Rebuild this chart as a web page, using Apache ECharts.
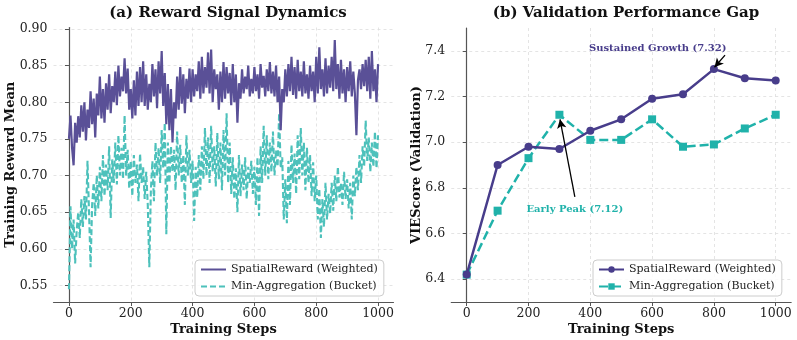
<!DOCTYPE html>
<html>
<head>
<meta charset="utf-8">
<script src="https://cdn.jsdelivr.net/npm/echarts@6/dist/echarts.min.js"></script>
<style>
html,body{margin:0;padding:0;background:#fff;}
#wrap{position:relative;width:797px;height:340px;}
#c1{position:absolute;left:0;top:0;width:400px;height:340px;}
#c2{position:absolute;left:400px;top:0;width:397px;height:340px;}
</style>
</head>
<body>
<div id="wrap"><div id="c1"></div><div id="c2"></div></div>
<script>
// ---- Data ----
// Training curves, sampled every 5 steps (0..1000)
const trainSteps = Array.from({length: 201}, (_, i) => i * 5);
const spatialTrain = [
0.750,0.782,0.738,0.714,0.772,0.745,0.781,0.752,0.796,0.760,
0.800,0.748,0.790,0.765,0.815,0.770,0.805,0.752,0.812,0.782,
0.835,0.778,0.818,0.772,0.826,0.790,0.838,0.785,0.822,0.800,
0.842,0.796,0.850,0.808,0.835,0.815,0.860,0.812,0.846,0.790,
0.818,0.778,0.830,0.782,0.842,0.795,0.848,0.800,0.856,0.795,
0.838,0.790,0.825,0.800,0.852,0.808,0.845,0.792,0.856,0.812,
0.870,0.795,0.840,0.770,0.825,0.762,0.818,0.745,0.800,0.778,
0.835,0.790,0.848,0.798,0.838,0.785,0.832,0.805,0.846,0.800,
0.845,0.808,0.838,0.815,0.856,0.805,0.862,0.812,0.848,0.820,
0.868,0.812,0.872,0.800,0.845,0.818,0.838,0.790,0.842,0.800,
0.855,0.805,0.848,0.812,0.840,0.796,0.852,0.800,0.838,0.772,
0.826,0.805,0.845,0.812,0.835,0.818,0.850,0.808,0.832,0.812,
0.848,0.815,0.838,0.805,0.852,0.820,0.836,0.808,0.845,0.815,
0.855,0.812,0.842,0.808,0.850,0.800,0.835,0.762,0.818,0.800,
0.845,0.808,0.852,0.815,0.862,0.810,0.848,0.805,0.858,0.815,
0.842,0.808,0.856,0.812,0.838,0.805,0.850,0.815,0.842,0.800,
0.862,0.812,0.875,0.818,0.845,0.808,0.860,0.812,0.850,0.820,
0.862,0.815,0.885,0.818,0.852,0.805,0.858,0.812,0.845,0.800,
0.848,0.815,0.856,0.808,0.842,0.812,0.755,0.830,0.845,0.818,
0.852,0.822,0.858,0.815,0.862,0.805,0.870,0.815,0.845,0.800,
0.852
];
const minAggTrain = [
0.545,0.658,0.600,0.640,0.580,0.625,0.650,0.615,0.668,0.630,
0.672,0.640,0.720,0.650,0.575,0.660,0.690,0.645,0.700,0.655,
0.712,0.665,0.728,0.672,0.715,0.680,0.740,0.642,0.722,0.690,
0.745,0.688,0.755,0.700,0.738,0.695,0.782,0.700,0.735,0.682,
0.720,0.672,0.728,0.690,0.715,0.665,0.730,0.690,0.712,0.668,
0.705,0.660,0.575,0.680,0.720,0.665,0.745,0.700,0.738,0.690,
0.762,0.710,0.772,0.620,0.745,0.690,0.740,0.705,0.735,0.680,
0.760,0.700,0.742,0.690,0.728,0.660,0.755,0.700,0.735,0.690,
0.720,0.638,0.712,0.670,0.728,0.680,0.740,0.695,0.765,0.700,
0.752,0.690,0.768,0.705,0.740,0.685,0.758,0.695,0.745,0.680,
0.762,0.700,0.785,0.690,0.745,0.675,0.725,0.668,0.710,0.650,
0.728,0.672,0.715,0.680,0.725,0.668,0.712,0.690,0.720,0.675,
0.712,0.660,0.725,0.645,0.740,0.690,0.768,0.700,0.755,0.695,
0.745,0.705,0.760,0.700,0.735,0.712,0.785,0.710,0.725,0.640,
0.695,0.635,0.720,0.660,0.742,0.690,0.730,0.675,0.755,0.695,
0.765,0.700,0.745,0.680,0.738,0.690,0.728,0.672,0.718,0.665,
0.700,0.640,0.682,0.615,0.668,0.630,0.690,0.640,0.675,0.648,
0.690,0.652,0.700,0.665,0.712,0.670,0.690,0.660,0.705,0.668,
0.695,0.655,0.690,0.640,0.700,0.672,0.712,0.680,0.728,0.690,
0.740,0.712,0.775,0.720,0.752,0.705,0.745,0.712,0.760,0.710,
0.755
];
// Validation points
const valSteps = [0,100,200,300,400,500,600,700,800,900,1000];
const spatialVal = [6.42,6.90,6.98,6.97,7.05,7.10,7.19,7.21,7.32,7.28,7.27];
const minAggVal  = [6.42,6.70,6.93,7.12,7.01,7.01,7.10,6.98,6.99,7.06,7.12];
// Tick labels
const xTicks = [0,200,400,600,800,1000];
const yTicksLeft = [0.55,0.60,0.65,0.70,0.75,0.80,0.85,0.90];
const yTicksRight = [6.4,6.6,6.8,7.0,7.2,7.4];
// Annotations
const annGrowth = {text:'Sustained Growth (7.32)', textAt:[618,7.412], from:[836,7.381], to:[802,7.328]};
const annPeak = {text:'Early Peak (7.12)', textAt:[350,6.705], from:[350,6.76], to:[302,7.10]};

const names = ['SpatialReward (Weighted)','Min-Aggregation (Bucket)'];
const FONT = 'DejaVu Serif';
const pair = (xs, ys) => xs.map((x, i) => [x, ys[i]]);

function axisX(){
  return {
    type:'value', min:-50, max:1050,
    name:'Training Steps', nameLocation:'middle', nameGap:21, nameMoveOverlap:false,
    nameTextStyle:{fontFamily:FONT,fontWeight:'bold',fontSize:13,color:'#111'},
    axisLine:{show:true,lineStyle:{color:'#555',width:1.2}},
    axisTick:{show:true,length:4,customValues:xTicks,lineStyle:{color:'#555'}},
    axisLabel:{customValues:xTicks,fontFamily:FONT,fontSize:12.5,color:'#222',margin:5,formatter:v=>String(Math.round(v))},
    splitLine:{show:true,lineStyle:{color:'#ddd',width:0.8,type:[3,3]}}
  };
}
function axisY(min,max,ticks,name,gap,fmt){
  return {
    type:'value', min:min, max:max,
    name:name, nameLocation:'middle', nameGap:gap, nameMoveOverlap:false,
    nameTextStyle:{fontFamily:FONT,fontWeight:'bold',fontSize:13,color:'#111'},
    axisLine:{show:true,lineStyle:{color:'#555',width:1.2}},
    axisTick:{show:true,length:4,customValues:ticks,lineStyle:{color:'#555'}},
    axisLabel:{customValues:ticks,fontFamily:FONT,fontSize:12.5,color:'#222',margin:6,formatter:fmt},
    splitLine:{show:true,lineStyle:{color:'#ddd',width:0.8,type:[3,3]}}
  };
}
function legendCfg(left, hideSymbol){
  const l = {
    orient:'vertical', left:left, top:260,
    itemWidth:25, itemHeight:8, itemGap:6,
    padding:[4,6,4,5],
    backgroundColor:'rgba(255,255,255,0.85)', borderColor:'#ccc', borderWidth:1, borderRadius:4,
    textStyle:{fontFamily:FONT,fontSize:11,color:'#222'},
    data:names
  };
  if (hideSymbol) l.itemStyle = {color:'rgba(0,0,0,0)', borderWidth:0, borderColor:'rgba(0,0,0,0)'};
  return l;
}

const c1 = echarts.init(document.getElementById('c1'), null, {renderer:'canvas'});
c1.setOption({
  animation:false,
  backgroundColor:'#fff',
  title:{text:'(a) Reward Signal Dynamics', left:223, top:1, textAlign:'center',
    textStyle:{fontFamily:FONT,fontWeight:'bold',fontSize:15,color:'#111'}},
  grid:{left:53.5,right:6.5,top:27.5,bottom:38,outerBoundsMode:'none',containLabel:false},
  xAxis:axisX(),
  yAxis:axisY(0.5275,0.902,yTicksLeft,'Training Reward Mean',36,v=>v.toFixed(2)),
  legend:legendCfg(195,true),
  series:[
    {name:names[0],type:'line',data:pair(trainSteps,spatialTrain),showSymbol:false,symbol:'none',
      lineStyle:{color:'#5a5097',width:2.2},itemStyle:{color:'#5a5097'},z:3},
    {name:names[1],type:'line',data:pair(trainSteps,minAggTrain),showSymbol:false,symbol:'none',
      lineStyle:{color:'#4dc1bb',width:2.1,type:[6,3]},itemStyle:{color:'#4dc1bb'},z:2}
  ]
});

const c2 = echarts.init(document.getElementById('c2'), null, {renderer:'canvas'});
function annMark(a,color){
  return {
    markPoint:{silent:true,symbol:'rect',symbolSize:[1,1],itemStyle:{color:'rgba(0,0,0,0)'},
      label:{show:true,position:'inside',formatter:a.text,color:color,fontFamily:FONT,fontWeight:'bold',fontSize:10},
      data:[{coord:a.textAt}]},
    markLine:{silent:true,symbol:['none','arrow'],symbolSize:[7,9],
      lineStyle:{color:'#000',width:1.3,type:'solid'},label:{show:false},
      data:[[{coord:a.from},{coord:a.to}]]}
  };
}
c2.setOption({
  animation:false,
  backgroundColor:'#fff',
  title:{text:'(b) Validation Performance Gap', left:221, top:1, textAlign:'center',
    textStyle:{fontFamily:FONT,fontWeight:'bold',fontSize:15,color:'#111'}},
  grid:{left:51.25,right:5.85,top:28,bottom:38,outerBoundsMode:'none',containLabel:false},
  xAxis:axisX(),
  yAxis:axisY(6.3,7.5,yTicksRight,'VIEScore (Validation)',28,v=>v.toFixed(1)),
  legend:legendCfg(193,false),
  series:[
    Object.assign({name:names[0],type:'line',data:pair(valSteps,spatialVal),symbol:'circle',symbolSize:8,
      lineStyle:{color:'#483d8b',width:2.5},itemStyle:{color:'#483d8b'},z:3}, annMark(annGrowth,'#483d8b')),
    Object.assign({name:names[1],type:'line',data:pair(valSteps,minAggVal),symbol:'rect',symbolSize:8,
      lineStyle:{color:'#20b2aa',width:2.5,type:[9,4]},itemStyle:{color:'#20b2aa'},z:2}, annMark(annPeak,'#20b2aa'))
  ]
});
</script>
</body>
</html>
